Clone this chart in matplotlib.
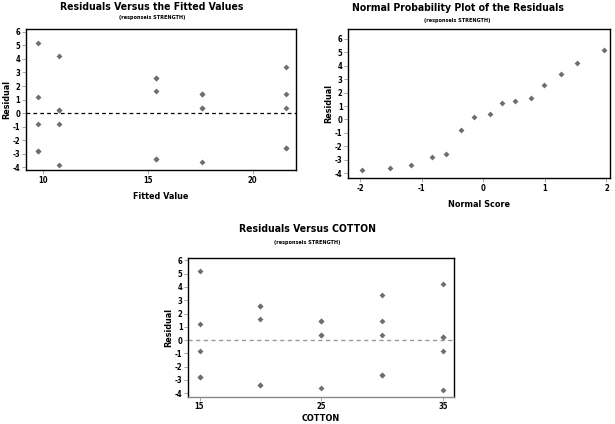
import matplotlib
matplotlib.use("Agg")
import matplotlib.pyplot as plt

plt.rcParams['font.family'] = ['DejaVu Sans']
plt.rcParams['font.weight'] = 'bold'
plt.rcParams['font.stretch'] = 'condensed'
plt.rcParams['axes.unicode_minus'] = False

# residuals per cotton level (15, 20, 25, 30, 35 %)
cotton = [15] * 5 + [20] * 5 + [25] * 5 + [30] * 5 + [35] * 5
fitted = [9.8] * 5 + [15.4] * 5 + [17.6] * 5 + [21.6] * 5 + [10.8] * 5
residuals = [-2.8, -2.8, 5.2, 1.2, -0.8,
             -3.4, 1.6, -3.4, 2.6, 2.6,
             -3.6, 0.4, 0.4, 1.4, 1.4,
             -2.6, 3.4, 0.4, -2.6, 1.4,
             -3.8, -0.8, 0.2, 4.2, 0.2]

# normal probability plot points (tied residuals collapsed)
normal_score = [-1.97, -1.52, -1.18, -0.83, -0.60, -0.36, -0.16, 0.10,
                0.30, 0.51, 0.77, 0.99, 1.26, 1.52, 1.96]
sorted_res = [-3.8, -3.6, -3.4, -2.8, -2.6, -0.8, 0.2, 0.4,
              1.2, 1.4, 1.6, 2.6, 3.4, 4.2, 5.2]

y_ticks = list(range(-4, 7))
mcolor = '#6e6e6e'

fig = plt.figure(figsize=(6.15, 4.24), dpi=100)


def style(ax, xlabel):
    ax.set_yticks(y_ticks)
    ax.tick_params(labelsize=5.5, length=3, width=0.6, color='#999999', pad=1)
    for lab in ax.get_xticklabels() + ax.get_yticklabels():
        lab.set_fontweight('bold')
    for s in ax.spines.values():
        s.set_linewidth(1.0)
    ax.set_xlabel(xlabel, fontsize=6.5, fontweight='bold', labelpad=5)
    ax.set_ylabel('Residual', fontsize=6.5, fontweight='bold', labelpad=1)


def titles(x, y, y_sub, title):
    fig.text(x, y, title, ha='center', va='center', fontsize=7.5, fontweight='bold')
    fig.text(x, y_sub, '(responseis STRENGTH)', ha='center', va='center',
             fontsize=4, fontweight='bold')


# residuals vs fitted
ax1 = fig.add_axes([0.042, 0.599, 0.439, 0.333])
ax1.scatter(fitted, residuals, s=9, marker='D', color=mcolor, linewidths=0, zorder=3)
ax1.axhline(0, color='black', lw=0.9, ls=(0, (3, 2.5)))
ax1.set_xlim(9.2, 22.06)
ax1.set_ylim(-4.2, 6.22)
ax1.set_xticks([10, 15, 20])
style(ax1, 'Fitted Value')
titles(0.247, 0.984, 0.958, 'Residuals Versus the Fitted Values')

# normal probability plot
ax2 = fig.add_axes([0.566, 0.580, 0.426, 0.351])
ax2.scatter(normal_score, sorted_res, s=9, marker='D', color=mcolor, linewidths=0, zorder=3)
ax2.set_xlim(-2.2, 2.06)
ax2.set_ylim(-4.37, 6.72)
ax2.set_xticks([-2, -1, 0, 1, 2])
style(ax2, 'Normal Score')
titles(0.744, 0.982, 0.952, 'Normal Probability Plot of the Residuals')

# residuals vs cotton
ax3 = fig.add_axes([0.306, 0.064, 0.4325, 0.328])
ax3.scatter(cotton, residuals, s=9, marker='D', color=mcolor, linewidths=0, zorder=3)
ax3.axhline(0, color='#999999', lw=1.0, ls=(0, (3, 2.5)))
ax3.set_xlim(14.07, 35.93)
ax3.set_ylim(-4.28, 6.2)
ax3.set_xticks([15, 25, 35])
ax3.spines['bottom'].set_color('#888888')
style(ax3, 'COTTON')
ax3.xaxis.labelpad = 2
titles(0.5, 0.46, 0.427, 'Residuals Versus COTTON')

fig.savefig('out.png', dpi=100)
